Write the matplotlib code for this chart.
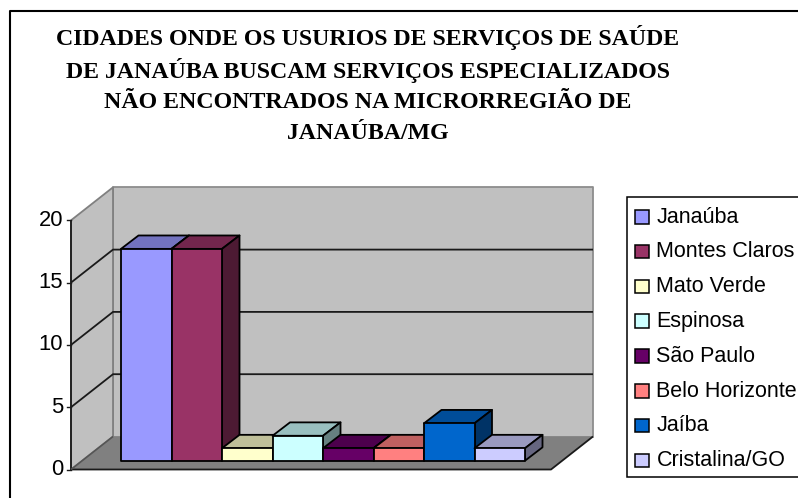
import matplotlib
matplotlib.use("Agg")
import matplotlib.pyplot as plt
from matplotlib.patches import Polygon, Rectangle
from matplotlib.colors import to_rgb

# values and labels
cities = ['Janaúba', 'Montes Claros', 'Mato Verde', 'Espinosa', 'São Paulo',
          'Belo Horizonte', 'Jaíba', 'Cristalina/GO']
values = [17, 17, 1, 2, 1, 1, 3, 1]
colors = ['#9999FF', '#993366', '#FFFFCC', '#CCFFFF', '#660066', '#FF8080',
          '#0066CC', '#CCCCFF']
yticks = [0, 5, 10, 15, 20]
title_lines = ['CIDADES ONDE OS USURIOS DE SERVIÇOS DE SAÚDE',
               'DE JANAÚBA BUSCAM SERVIÇOS ESPECIALIZADOS',
               'NÃO ENCONTRADOS NA MICRORREGIÃO DE',
               'JANAÚBA/MG']

W, H = 798, 498
plt.rcParams['font.family'] = ['Liberation Sans', 'DejaVu Sans']

fig = plt.figure(figsize=(W / 100, H / 100), dpi=100)

# axes = the plane of the bar fronts, in category / value units
ppx = 50.5
ppy = 12.46
ax = fig.add_axes([121 / W, (H - 460.7) / H, 8 * ppx / W, 20 * ppy / H])
ax.set_xlim(0, 8)
ax.set_ylim(0, 20)
ax.axis('off')

# box corners relative to that plane
x0 = -50 / ppx        # front left
x1 = 430 / ppx        # front right
y0 = -8.8 / ppy       # front floor level
bdx = 42 / ppx        # depth of the box
bdy = 33 / ppy
dx = 17.5 / ppx       # depth of a bar
dy = 13.4 / ppy


def poly(pts, fc, ec='none', lw=1.0, z=1):
    ax.add_patch(Polygon(pts, closed=True, fc=fc, ec=ec, lw=lw, zorder=z,
                         clip_on=False, joinstyle='round'))


def line(xs, ys, c='#1a1a1a', lw=1.3, z=2):
    ax.plot(xs, ys, color=c, lw=lw, zorder=z, clip_on=False,
            solid_capstyle='butt')


def shade(c, f):
    return tuple(v * f for v in to_rgb(c))


top = 20 + y0
# back wall, side wall, floor
poly([(x0 + bdx, y0 + bdy), (x1 + bdx, y0 + bdy), (x1 + bdx, top + bdy), (x0 + bdx, top + bdy)],
     '#C0C0C0', '#8c8c8c', 1.3)
poly([(x0, y0), (x0 + bdx, y0 + bdy), (x0 + bdx, top + bdy), (x0, top)],
     '#C0C0C0', '#808080', 1.3)
poly([(x0, y0), (x1, y0), (x1 + bdx, y0 + bdy), (x0 + bdx, y0 + bdy)], '#808080', z=1.5)
line([x0, x1, x1 + bdx], [y0, y0, y0 + bdy], lw=1.3)
line([x0, x0], [y0, top], lw=1.3)
line([x0, x0 + bdx], [y0, y0 + bdy], c='#555555', lw=1.2)

# gridlines and ticks
for t in yticks:
    yy = y0 + t
    ax.plot([x0 - 4 / ppx, x0], [yy, yy], color='#1a1a1a', lw=1.0, clip_on=False, zorder=2)
    ax.text(x0 - 8 / ppx, yy, str(t), ha='right', va='center', fontsize=15.8, color='black')
    if 0 < t < 20:
        line([x0, x0 + bdx, x1 + bdx], [yy, yy + bdy, yy + bdy], lw=1.3)

# bars, painted left to right
for i, (v, c) in enumerate(zip(values, colors)):
    z = 3 + i * 0.1
    poly([(i, v), (i + 1, v), (i + 1 + dx, v + dy), (i + dx, v + dy)], shade(c, 0.75), 'black', 1.3, z)
    poly([(i + 1, 0), (i + 1 + dx, dy), (i + 1 + dx, v + dy), (i + 1, v)], shade(c, 0.5), 'black', 1.3, z)
    poly([(i, 0), (i + 1, 0), (i + 1, v), (i, v)], c, 'black', 1.3, z)

# chart frame, title and legend sit in figure pixels
over = fig.add_axes([0, 0, 1, 1], zorder=10)
over.set_xlim(0, W)
over.set_ylim(H, 0)
over.axis('off')
# frame runs off the right and bottom of the picture
over.plot([9.5, 9.5, W + 5], [H + 5, 11, 11], color='black', lw=1.5, clip_on=True)

for ln, ty in zip(title_lines, [37, 70, 102, 133]):
    over.text(368, ty, ln, ha='center', va='center', fontsize=17.2, fontweight='bold',
              family=['Liberation Serif', 'DejaVu Serif'], color='black')

over.add_patch(Rectangle((627, 197), W, 279.5, fc='white', ec='black', lw=1.1))
for i, (name, c) in enumerate(zip(cities, colors)):
    ly = 217 + i * 34.8
    over.add_patch(Rectangle((634.5, ly - 7), 14.5, 13.5, fc=c, ec='black', lw=1.1))
    over.text(656.5, ly, name, ha='left', va='center', fontsize=15.5, color='black')

fig.savefig('out.png', dpi=100)
